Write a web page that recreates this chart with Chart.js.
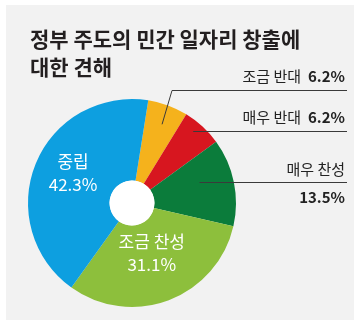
<!DOCTYPE html>
<html>
<head>
<meta charset="utf-8">
<script src="https://cdn.jsdelivr.net/npm/chart.js@4"></script>
<style>
  html, body { margin: 0; padding: 0; background: #fff; }
  #wrap { width: 360px; height: 326px; }
</style>
</head>
<body>
<div id="wrap"><canvas id="pie-chart" width="360" height="326"></canvas></div>
<script>
// Survey shares (%), clockwise starting just right of 12 o'clock
const categories = ['조금 반대', '매우 반대', '매우 찬성', '조금 찬성', '중립'];
const shares = [6.2, 6.2, 13.5, 31.1, 42.3];
const sliceColors = ['#f5b21c', '#d7161f', '#0b7c3b', '#8dbf3c', '#0d9fe0'];
const titleLines = ['정부 주도의 민간 일자리 창출에', '대한 견해'];

const FONT = '"Noto Sans CJK KR", "Noto Sans", sans-serif';

// where each label goes: 'in' = white text on the slice, 'out' = right side with leader line
const labelStyle = [
  { kind: 'out', t: 0.53, rf: 0.81, lineY: 90, elbowX: 172, textY: 76 },
  { kind: 'out', t: 0.40, rf: 0.91, lineY: 131, elbowX: null, textY: 117 },
  { kind: 'out2', t: 0.40, rf: 0.68, lineY: 182, elbowX: null, textY: 169, valueY: 197 },
  { kind: 'in', t: 0.49, rf: 0.51 },
  { kind: 'in', t: 0.535, rf: 0.64 }
];

function pct(v) { return v.toFixed(1) + '%'; }

function pointAt(arc, t, rf) {
  let a = arc.startAngle + t * (arc.endAngle - arc.startAngle);
  let r = rf * arc.outerRadius;
  return { x: arc.x + r * Math.cos(a), y: arc.y + r * Math.sin(a) };
}

// gray panel behind everything
const panelPlugin = {
  id: 'panel',
  beforeDraw(chart) {
    const ctx = chart.ctx;
    ctx.save();
    ctx.fillStyle = '#ffffff';
    ctx.fillRect(0, 0, chart.width, chart.height);
    ctx.fillStyle = '#f2f2f2';
    ctx.fillRect(6, 5, 348, 315);
    ctx.restore();
  }
};

// title, white hole, slice labels and leader lines
const labelPlugin = {
  id: 'labels',
  afterDatasetsDraw(chart) {
    const ctx = chart.ctx;
    const arcs = chart.getDatasetMeta(0).data;
    ctx.save();

    // title
    ctx.fillStyle = '#231f20';
    ctx.font = 'bold 21px ' + FONT;
    ctx.textAlign = 'left';
    ctx.textBaseline = 'middle';
    ctx.fillText(titleLines[0], 30, 39);
    ctx.fillText(titleLines[1], 30, 67);

    // white centre
    const a0 = arcs[0];
    ctx.fillStyle = '#ffffff';
    ctx.beginPath();
    ctx.arc(a0.x, a0.y, a0.innerRadius, 0, Math.PI * 2);
    ctx.fill();

    arcs.forEach((arc, i) => {
      const s = labelStyle[i];
      if (s.kind === 'in') {
        const p = pointAt(arc, s.t, s.rf);
        ctx.fillStyle = '#ffffff';
        ctx.font = '17px ' + FONT;
        ctx.textAlign = 'center';
        ctx.fillText(categories[i], p.x, p.y - 11);
        ctx.fillText(pct(shares[i]), p.x, p.y + 12);
        return;
      }
      // leader line
      const p = pointAt(arc, s.t, s.rf);
      const ex = s.elbowX === null ? p.x : s.elbowX;
      ctx.strokeStyle = '#3a3a3a';
      ctx.lineWidth = 1;
      ctx.beginPath();
      ctx.moveTo(p.x, p.y);
      ctx.lineTo(ex, s.lineY + 0.5);
      ctx.lineTo(347, s.lineY + 0.5);
      ctx.stroke();

      ctx.fillStyle = '#222222';
      ctx.textAlign = 'right';
      if (s.kind === 'out') {
        ctx.font = 'bold 15px ' + FONT;
        const val = pct(shares[i]);
        ctx.fillText(val, 345, s.textY);
        const w = ctx.measureText(val).width;
        ctx.font = '15px ' + FONT;
        ctx.fillText(categories[i], 345 - w - 7, s.textY);
      } else {
        ctx.font = '15px ' + FONT;
        ctx.fillText(categories[i], 345, s.textY);
        ctx.font = 'bold 15px ' + FONT;
        ctx.fillText(pct(shares[i]), 345, s.valueY);
      }
    });
    ctx.restore();
  }
};

let config = {
  type: 'doughnut',
  data: {
    labels: categories,
    datasets: [{
      data: shares,
      backgroundColor: sliceColors,
      borderWidth: 0
    }]
  },
  options: {
    responsive: false,
    animation: false,
    devicePixelRatio: 1,
    events: [],
    rotation: 9,
    cutout: '21.6%',
    layout: { padding: { left: 28, right: 124, top: 99, bottom: 19 } },
    plugins: {
      legend: { display: false },
      title: { display: false },
      tooltip: { enabled: false }
    }
  },
  plugins: [panelPlugin, labelPlugin]
};

let pieChart = new Chart(document.getElementById('pie-chart'), config);
</script>
</body>
</html>
